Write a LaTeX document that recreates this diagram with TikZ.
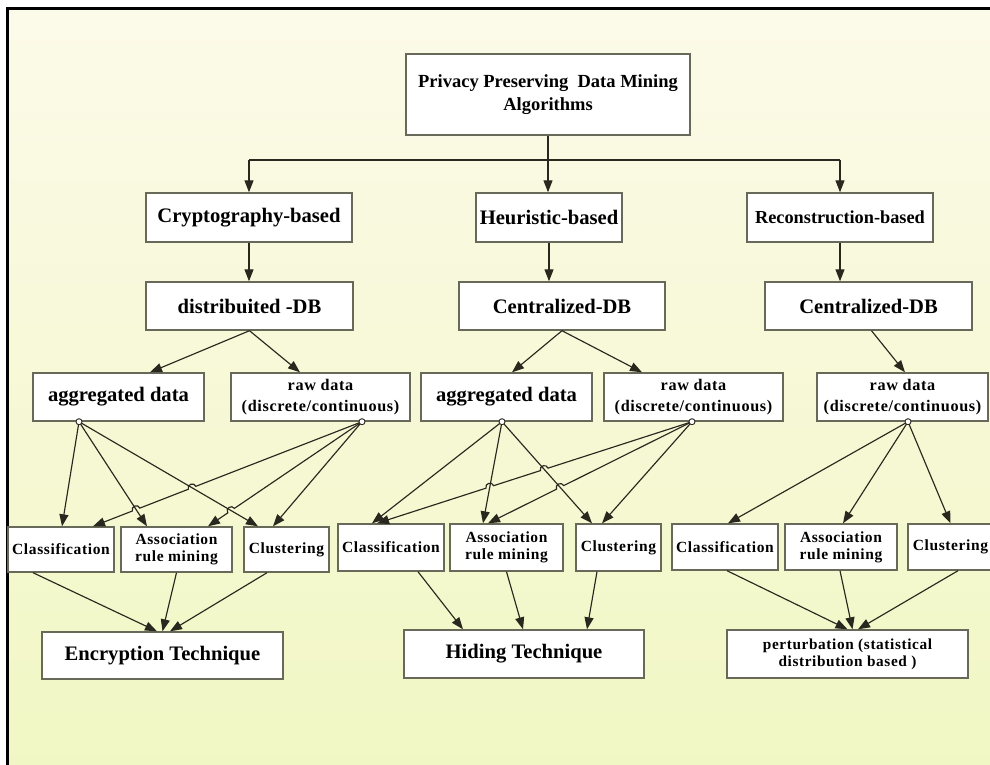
\documentclass[tikz,border=0pt]{standalone}
\usepackage{fontspec}
\setmainfont{Liberation Serif}
\newfontfamily\trk[LetterSpace=4]{Liberation Serif}
\usetikzlibrary{arrows.meta,calc,intersections}
\definecolor{bgtop}{RGB}{252,250,233}
\definecolor{bgbot}{RGB}{241,247,196}
\definecolor{boxline}{RGB}{105,105,90}
\definecolor{arrline}{RGB}{40,40,30}
\tikzset{
  box/.style={draw=boxline, line width=1.4pt, fill=white, inner sep=0pt, align=center},
  conn/.style={draw=arrline, line width=1.15pt},
  arr/.style={conn, -{Triangle[length=12pt,width=9pt]}},
  portc/.style={circle, draw=arrline, line width=0.9pt, fill=white, minimum size=6pt, inner sep=0pt},
  hop/.style={bend right=90, looseness=1.6},
  ftop/.style={font=\bfseries\fontsize{18.5}{23}\selectfont},
  fbig/.style={font=\bfseries\fontsize{20.6}{24}\selectfont},
  frec/.style={font=\bfseries\fontsize{18.3}{22}\selectfont},
  fraw/.style={font=\trk\bfseries\fontsize{16.2}{21}\selectfont},
  fsmall/.style={font=\trk\bfseries\fontsize{15.5}{17}\selectfont},
  fpert/.style={font=\trk\bfseries\fontsize{15.3}{17}\selectfont},
}
\begin{document}
\begin{tikzpicture}[x=1pt,y=-1pt]
\useasboundingbox (0,0) rectangle (990,764);
\fill[white] (0,0) rectangle (990,764);
\shade[top color=bgtop, bottom color=bgbot] (7.5,8) rectangle (990,764);
\draw[line width=3pt, black] (7.5,766) -- (7.5,8) -- (992,8);

% level 0
\node[box, ftop, minimum width=284pt, minimum height=81pt] (top) at (548,94.5) {Privacy Preserving~ Data Mining\\Algorithms};
% level 1
\node[box, fbig, minimum width=206pt, minimum height=49pt] (crypto) at (249,217.5) {Cryptography-based};
\node[box, fbig, minimum width=146pt, minimum height=49pt] (heur) at (549,217.5) {Heuristic-based};
\node[box, frec, minimum width=186pt, minimum height=49pt] (recon) at (840,217.5) {Reconstruction-based};
% level 2
\node[box, fbig, minimum width=207pt, minimum height=48pt] (ddb) at (249.5,306) {distribuited -DB};
\node[box, fbig, minimum width=206pt, minimum height=48pt] (cdbM) at (562,306) {Centralized-DB};
\node[box, fbig, minimum width=207pt, minimum height=48pt] (cdbR) at (868.5,306) {Centralized-DB};
% level 3
\node[box, fbig, minimum width=171pt, minimum height=48pt] (aggL) at (118.5,397) {aggregated data};
\node[box, fraw, minimum width=179pt, minimum height=48pt] (rawL) at (320.5,397) {raw data\\(discrete/continuous)};
\node[box, fbig, minimum width=171pt, minimum height=48pt] (aggM) at (506.5,397) {aggregated data};
\node[box, fraw, minimum width=179pt, minimum height=48pt] (rawM) at (693.5,397) {raw data\\(discrete/continuous)};
\node[box, fraw, minimum width=171pt, minimum height=48pt] (rawR) at (902.5,397) {raw data\\(discrete/continuous)};
% level 4
\node[box, fsmall, minimum width=106pt, minimum height=45pt] (classL) at (61,549.5) {Classification};
\node[box, fsmall, minimum width=111pt, minimum height=45pt] (assocL) at (176.5,549.5) {Association\\rule mining};
\node[box, fsmall, minimum width=85pt, minimum height=45pt] (clustL) at (286.5,549.5) {Clustering};
\node[box, fsmall, minimum width=106pt, minimum height=47pt] (classM) at (391,547.5) {Classification};
\node[box, fsmall, minimum width=113pt, minimum height=47pt] (assocM) at (506.5,547.5) {Association\\rule mining};
\node[box, fsmall, minimum width=85pt, minimum height=47pt] (clustM) at (618.5,547.5) {Clustering};
\node[box, fsmall, minimum width=106pt, minimum height=46pt] (classR) at (725,547) {Classification};
\node[box, fsmall, minimum width=112pt, minimum height=46pt] (assocR) at (841,547) {Association\\rule mining};
\node[box, fsmall, minimum width=85pt, minimum height=46pt] (clustR) at (950.5,547) {Clustering};
% level 5
\node[box, fbig, minimum width=241pt, minimum height=47pt] (enc) at (162.5,655.5) {Encryption Technique};
\node[box, fbig, minimum width=240pt, minimum height=48pt] (hid) at (524,654) {Hiding Technique};
\node[box, fpert, minimum width=241pt, minimum height=48pt] (pert) at (847.5,654) {perturbation (statistical\\distribution based )};

% top connectors
\coordinate (J) at (548,160);
\coordinate (JL) at (249,160);
\coordinate (JR) at (840,160);
\draw[conn] (top.south) -- (J);
\draw[conn] (JL) -- (JR);
\draw[arr] (JL) -- (crypto.north);
\draw[arr] (J) -- (J |- heur.north);
\draw[arr] (JR) -- (recon.north);
\draw[arr] (crypto.south) -- (crypto.south |- ddb.north);
\draw[arr] (heur.south) -- (heur.south |- cdbM.north);
\draw[arr] (recon.south) -- (recon.south |- cdbR.north);
\draw[arr] (ddb.south) -- ([xshift=31.5pt]aggL.north);
\draw[arr] (ddb.south) -- ([xshift=-20.5pt]rawL.north);
\draw[arr] (cdbM.south) -- ([xshift=5.5pt]aggM.north);
\draw[arr] (cdbM.south) -- ([xshift=-51.5pt]rawM.north);
\draw[arr] ([xshift=3pt]cdbR.south) -- ([xshift=2.5pt]rawR.north);

% ports
\coordinate (pAL) at ([xshift=-39.5pt]aggL.south);
\coordinate (pRL) at ([xshift=41.5pt]rawL.south);
\coordinate (pAM) at ([xshift=-4.5pt]aggM.south);
\coordinate (pRM) at ([xshift=-1.5pt]rawM.south);
\coordinate (pRR) at ([xshift=5.5pt]rawR.south);

% left group
\coordinate (tAL1) at ([xshift=1pt]classL.north);
\coordinate (tAL2) at ([xshift=-29.5pt]assocL.north);
\coordinate (tAL3) at ([xshift=-28.5pt]clustL.north);
\coordinate (tRL1) at ([xshift=32pt]classL.north);
\coordinate (tRL2) at ([xshift=31.5pt]assocL.north);
\coordinate (tRL3) at ([xshift=-13.5pt]clustL.north);
\draw[arr] (pAL) -- (tAL1);
\draw[arr, name path=A2L] (pAL) -- (tAL2);
\draw[arr, name path=A3L] (pAL) -- (tAL3);
\path[name path=R1L] (pRL) -- (tRL1);
\path[name path=R2L] (pRL) -- (tRL2);
\path[name intersections={of=R1L and A3L, by=xa}];
\path[name intersections={of=R1L and A2L, by=xb}];
\path[name intersections={of=R2L and A3L, by=xc}];
\draw[arr] (pRL) -- ($(xa)!4pt!(pRL)$) to[hop] ($(xa)!4pt!(tRL1)$) -- ($(xb)!4pt!(pRL)$) to[hop] ($(xb)!4pt!(tRL1)$) -- (tRL1);
\draw[arr] (pRL) -- ($(xc)!4pt!(pRL)$) to[hop] ($(xc)!4pt!(tRL2)$) -- (tRL2);
\draw[arr] (pRL) -- (tRL3);

% middle group
\coordinate (tAM1) at ([xshift=-19pt]classM.north);
\coordinate (tAM2) at ([xshift=-23.5pt]assocM.north);
\coordinate (tAM3) at ([xshift=-26.5pt]clustM.north);
\coordinate (tRM1) at ([xshift=-14pt]classM.north);
\coordinate (tRM2) at ([xshift=-18.5pt]assocM.north);
\coordinate (tRM3) at ([xshift=-16.5pt]clustM.north);
\draw[arr] (pAM) -- (tAM1);
\draw[arr, name path=A2M] (pAM) -- (tAM2);
\draw[arr, name path=A3M] (pAM) -- (tAM3);
\path[name path=R1M] (pRM) -- (tRM1);
\path[name path=R2M] (pRM) -- (tRM2);
\path[name intersections={of=R1M and A3M, by=xd}];
\path[name intersections={of=R1M and A2M, by=xe}];
\path[name intersections={of=R2M and A3M, by=xf}];
\draw[arr] (pRM) -- ($(xd)!4pt!(pRM)$) to[hop] ($(xd)!4pt!(tRM1)$) -- ($(xe)!4pt!(pRM)$) to[hop] ($(xe)!4pt!(tRM1)$) -- (tRM1);
\draw[arr] (pRM) -- ($(xf)!4pt!(pRM)$) to[hop] ($(xf)!4pt!(tRM2)$) -- (tRM2);
\draw[arr] (pRM) -- (tRM3);

% right group
\draw[arr] (pRR) -- ([xshift=3pt]classR.north);
\draw[arr] (pRR) -- ([xshift=2pt]assocR.north);
\draw[arr] (pRR) -- (clustR.north);

% port circles
\foreach \p in {pAL,pRL,pAM,pRM,pRR} \node[portc] at (\p) {};

% bottom connectors
\draw[arr] ([xshift=-28pt]classL.south) -- ([xshift=-5.5pt]enc.north);
\draw[arr] (assocL.south) -- (enc.north);
\draw[arr] ([xshift=-19.5pt]clustL.south) -- ([xshift=7.5pt]enc.north);
\draw[arr] ([xshift=27pt]classM.south) -- ([xshift=-61pt]hid.north);
\draw[arr] (assocM.south) -- ([xshift=-1pt]hid.north);
\draw[arr] ([xshift=-21.5pt]clustM.south) -- ([xshift=63pt]hid.north);
\draw[arr] ([xshift=2pt]classR.south) -- (pert.north);
\draw[arr] ([xshift=-1pt]assocR.south) -- ([xshift=5pt]pert.north);
\draw[arr] ([xshift=7.5pt]clustR.south) -- ([xshift=10.5pt]pert.north);
\end{tikzpicture}
\end{document}
